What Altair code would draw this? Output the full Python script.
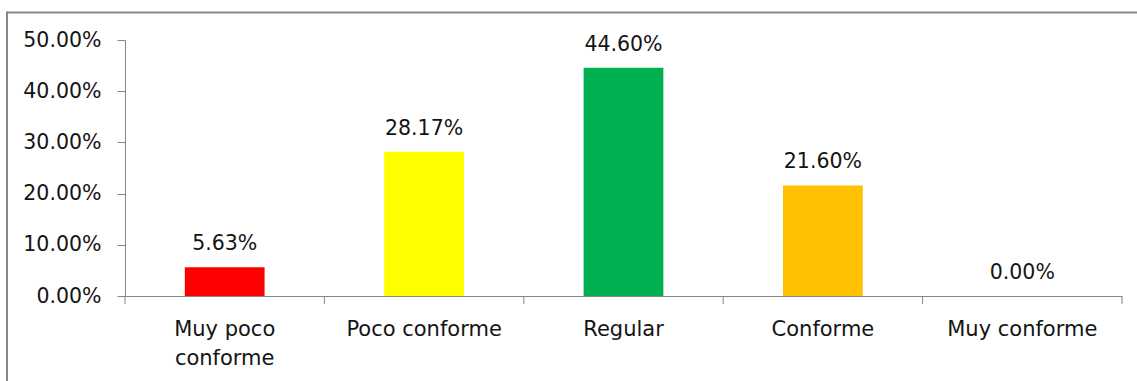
import altair as alt
import pandas as pd

# Survey answers and their share of respondents
categories = ["Muy poco conforme", "Poco conforme", "Regular", "Conforme", "Muy conforme"]
shares = [0.0563, 0.2817, 0.4460, 0.2160, 0.0000]
bar_colors = ["#FF0000", "#FFFF00", "#00B050", "#FFC000", "#5B9BD5"]
y_ticks = [0.0, 0.1, 0.2, 0.3, 0.4, 0.5]

df = pd.DataFrame({"categoria": categories, "porcentaje": shares, "color": bar_colors})

W, H = 997, 256
FONT = "DejaVu Sans"
TEXT = "#141414"
LINE = "#868686"

label_expr = "datum.label == 'Muy poco conforme' ? ['Muy poco', 'conforme'] : datum.label"

x_enc = alt.X(
    "categoria:N",
    sort=categories,
    scale=alt.Scale(paddingInner=0, paddingOuter=0),
    axis=alt.Axis(
        title=None,
        ticks=False,
        domainColor=LINE,
        labelFont=FONT,
        labelFontSize=21,
        labelColor=TEXT,
        labelPadding=22,
        labelLineHeight=29,
        labelAngle=0,
        labelExpr=label_expr,
    ),
)
y_enc = alt.Y(
    "porcentaje:Q",
    scale=alt.Scale(domain=[0, 0.5]),
    axis=alt.Axis(
        title=None,
        values=y_ticks,
        format=".2%",
        grid=False,
        domainColor=LINE,
        tickColor=LINE,
        tickSize=8,
        labelFont=FONT,
        labelFontSize=20.5,
        labelColor=TEXT,
        labelPadding=16,
    ),
)

base = alt.Chart(df)

bars = base.mark_bar(width=alt.RelativeBandSize(0.4)).encode(
    x=x_enc,
    y=y_enc,
    color=alt.Color("color:N", scale=None),
)

labels = base.mark_text(
    font=FONT, fontSize=20.5, color=TEXT, baseline="alphabetic", dy=-17
).encode(
    x=alt.X("categoria:N", sort=categories),
    y="porcentaje:Q",
    text=alt.Text("porcentaje:Q", format=".2%"),
)

# category separator ticks below the baseline
sep_ticks = base.mark_rule(color=LINE, strokeWidth=1).encode(
    x=alt.X("categoria:N", sort=categories, bandPosition=1),
    y=alt.value(H),
    y2=alt.value(H + 8),
)

one = pd.DataFrame({"k": [0]})
first_tick = alt.Chart(one).mark_rule(color=LINE, strokeWidth=1).encode(
    x=alt.value(0), y=alt.value(H), y2=alt.value(H + 8)
)

# outer frame of the chart
frame_top = alt.Chart(one).mark_rule(color="#878787", strokeWidth=2).encode(
    x=alt.value(-118), x2=alt.value(W + 30), y=alt.value(-27.5)
)
frame_left = alt.Chart(one).mark_rule(color="#878787", strokeWidth=2).encode(
    x=alt.value(-118), y=alt.value(-28.5), y2=alt.value(H + 100)
)

chart = (
    alt.layer(bars, labels, sep_ticks, first_tick, frame_top, frame_left)
    .properties(
        width=W,
        height=H,
        autosize=alt.AutoSizeParams(type="none"),
        padding={"left": 125, "top": 40, "right": 15, "bottom": 85},
        background="white",
    )
    .configure_view(strokeWidth=0)
)

chart.save("out.html", embed_options={"renderer": "svg", "actions": False})
